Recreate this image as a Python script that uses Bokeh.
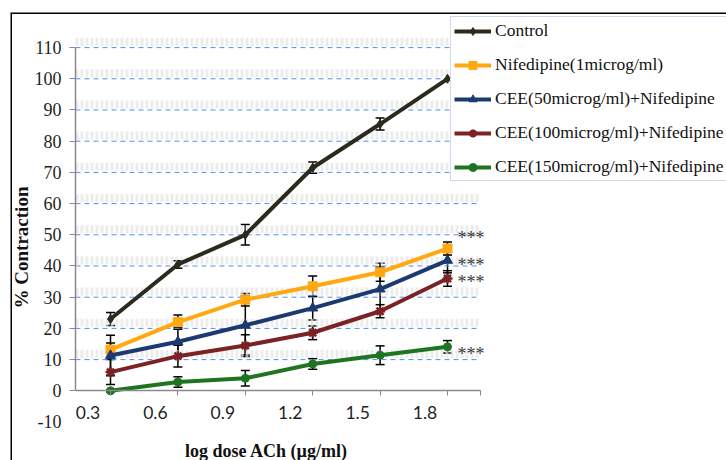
from bokeh.plotting import figure
from bokeh.models import (ColumnDataSource, FixedTicker, LinearAxis, Range1d, Span,
                          Whisker, TeeHead, Legend, LegendItem)
from bokeh.core.properties import value
from bokeh.embed import file_html
from bokeh.resources import INLINE

# ---------------- data ----------------
log_dose = [0.4, 0.7, 1.0, 1.3, 1.6, 1.9]
x_tick_values = [0.3, 0.6, 0.9, 1.2, 1.5, 1.8]
y_tick_values = [0, 10, 20, 30, 40, 50, 60, 70, 80, 90, 100, 110]
y_extra_tick = [-10]

control = [23.0, 40.5, 50.0, 71.5, 85.5, 100.0]
control_err = [2.1, 1.2, 3.3, 1.8, 1.9, 0.0]
nifedipine = [13.2, 22.0, 29.2, 33.5, 38.0, 45.6]
nifedipine_err = [2.1, 2.3, 2.0, 3.3, 2.9, 2.1]
cee50 = [11.3, 15.7, 21.0, 26.5, 32.6, 41.8]
cee50_err = [6.5, 4.5, 9.5, 3.8, 7.0, 4.0]
cee100 = [6.0, 11.1, 14.5, 18.6, 25.5, 36.0]
cee100_err = [4.0, 3.5, 3.5, 2.2, 2.1, 2.5]
cee150 = [0.0, 2.8, 4.0, 8.6, 11.4, 14.1]
cee150_err = [0.3, 1.7, 2.5, 1.7, 3.0, 2.0]

series_names = ["Control", "Nifedipine(1microg/ml)", "CEE(50microg/ml)+Nifedipine",
                "CEE(100microg/ml)+Nifedipine", "CEE(150microg/ml)+Nifedipine"]
series_values = [control, nifedipine, cee50, cee100, cee150]
series_errors = [control_err, nifedipine_err, cee50_err, cee100_err, cee150_err]

sig_labels = ["***", "***", "***", "***"]
sig_y = [50.4, 41.5, 36.0, 13.2]

x_title = "log dose ACh (µg/ml)"
y_title = "% Contraction"

# ---------------- style / layout ----------------
colors = ["#2b2a1c", "#ffa812", "#1c3a70", "#7a2224", "#1e7420"]
markers = ["diamond", "square", "triangle", "asterisk", "circle"]
marker_sizes = [9, 9, 10, 10, 8]

X_START, X_END = -0.0451, 3.1418
Y_START, Y_END = -22.34, 121.25
X_AXIS_START, X_AXIS_END = 0.2442, 2.0469
SERIF = "Liberation Serif"
AXIS_GRAY = "#8a8a8a"

p = figure(width=726, height=460, output_backend="svg", toolbar_location=None,
           x_range=Range1d(X_START, X_END), y_range=Range1d(Y_START, Y_END),
           x_axis_type=None, y_axis_type=None,
           min_border_left=10, min_border_right=0, min_border_top=12, min_border_bottom=0)
p.outline_line_color = None
p.background_fill_color = "white"
p.border_fill_color = "white"

# grid lines limited to the axis extent
grid_y = y_tick_values[1:]
n_grid = len(grid_y)
p.segment(x0=[X_AXIS_START] * n_grid, x1=[X_AXIS_END] * n_grid,
          y0=[v + 1.8 for v in grid_y], y1=[v + 1.8 for v in grid_y],
          line_color="#e4e4e4", line_width=8, line_dash="3 2", line_alpha=0.7)
p.segment(x0=[X_AXIS_START] * n_grid, x1=[X_AXIS_END] * n_grid,
          y0=grid_y, y1=grid_y, line_color="#4f8ef0", line_width=1, line_dash="5 4")

# y axis
y_axis = LinearAxis(fixed_location=X_AXIS_START, bounds=(0, 110),
                    ticker=FixedTicker(ticks=y_tick_values),
                    axis_line_color=AXIS_GRAY, axis_line_width=1.5,
                    major_tick_line_color=AXIS_GRAY, major_tick_out=6, major_tick_in=0,
                    minor_tick_out=0, minor_tick_in=0, major_label_standoff=8,
                    major_label_text_font=SERIF, major_label_text_font_size="18px",
                    major_label_text_color="#1f1f1f")
p.add_layout(y_axis, "left")

y_axis_neg = LinearAxis(fixed_location=X_AXIS_START, bounds=(-12, -8),
                        ticker=FixedTicker(ticks=y_extra_tick),
                        major_label_overrides={-10: "-10"},
                        axis_line_color=None, major_tick_line_color=None,
                        major_tick_out=6, major_tick_in=0, minor_tick_out=0, minor_tick_in=0,
                        major_label_standoff=8, major_label_text_font=SERIF,
                        major_label_text_font_size="18px", major_label_text_color="#1f1f1f")
p.add_layout(y_axis_neg, "left")

y_title_axis = LinearAxis(fixed_location=X_AXIS_START, bounds=(-18.2, 110),
                          ticker=FixedTicker(ticks=[]), axis_line_color=None,
                          major_tick_out=0, major_tick_in=0, minor_tick_out=0, minor_tick_in=0,
                          major_label_standoff=0, axis_label=y_title, axis_label_standoff=44,
                          axis_label_text_font=SERIF, axis_label_text_font_style="bold",
                          axis_label_text_font_size="19px", axis_label_text_color="#111111")
p.add_layout(y_title_axis, "left")

# x axis
x_axis = LinearAxis(fixed_location=0, bounds=(X_AXIS_START, X_AXIS_END),
                    ticker=FixedTicker(ticks=x_tick_values, minor_ticks=log_dose + [X_AXIS_END]),
                    axis_line_color=AXIS_GRAY, axis_line_width=1.5,
                    major_tick_out=0, major_tick_in=0,
                    minor_tick_line_color=AXIS_GRAY, minor_tick_out=5, minor_tick_in=0,
                    major_label_standoff=10, major_label_text_font="Lato",
                    major_label_text_font_size="17.5px", major_label_text_color="#1f1f1f")
p.add_layout(x_axis, "below")

x_title_axis = LinearAxis(fixed_location=0, bounds=(X_AXIS_START, 1.9446),
                          ticker=FixedTicker(ticks=[]), axis_line_color=None,
                          major_tick_out=0, major_tick_in=0, minor_tick_out=0, minor_tick_in=0,
                          major_label_standoff=0, axis_label=x_title, axis_label_standoff=50,
                          axis_label_text_font=SERIF, axis_label_text_font_style="bold",
                          axis_label_text_font_size="18px", axis_label_text_color="#111111")
p.add_layout(x_title_axis, "below")

# frame border (left and top)
p.add_layout(Span(location=X_START, dimension="height", line_color="black", line_width=3))
p.add_layout(Span(location=Y_END, dimension="width", line_color="black", line_width=3))

# series
legend_items = []
for name, vals, errs, col, mk, ms in zip(series_names, series_values, series_errors,
                                         colors, markers, marker_sizes):
    src = ColumnDataSource(dict(x=log_dose, y=vals))
    ln = p.line("x", "y", source=src, line_color=col, line_width=4)
    sc = p.scatter("x", "y", source=src, marker=mk, size=ms, fill_color=col,
                   line_color=col, line_width=2.5 if mk == "asterisk" else 1)
    legend_items.append(LegendItem(label=name, renderers=[ln, sc]))

for vals, errs in zip(series_values, series_errors):
    pts = [(x, v, e) for x, v, e in zip(log_dose, vals, errs) if e > 0]
    wsrc = ColumnDataSource(dict(base=[t[0] for t in pts],
                                 upper=[t[1] + t[2] for t in pts],
                                 lower=[t[1] - t[2] for t in pts]))
    w = Whisker(base="base", upper="upper", lower="lower", source=wsrc,
                line_color="black", line_width=1.5,
                upper_head=TeeHead(size=9, line_color="black", line_width=1.5),
                lower_head=TeeHead(size=9, line_color="black", line_width=1.5))
    p.add_layout(w)

p.text(x=[log_dose[-1]] * len(sig_y), y=sig_y, text=sig_labels, x_offset=10, y_offset=4,
       text_font=value(SERIF), text_font_size="18px", text_color="#3a3a3a",
       text_baseline="middle", text_align="left")

legend = Legend(items=legend_items, location=(440, 279), margin=0, padding=3, spacing=13,
                glyph_width=37, glyph_height=20, label_height=20, label_standoff=4,
                label_text_font=SERIF, label_text_font_size="17.5px",
                label_text_color="#111111",
                border_line_color="#9fb4d8", border_line_width=1.5,
                background_fill_color="white", background_fill_alpha=1)
p.add_layout(legend)

open("out.html", "w").write(file_html(p, INLINE))
